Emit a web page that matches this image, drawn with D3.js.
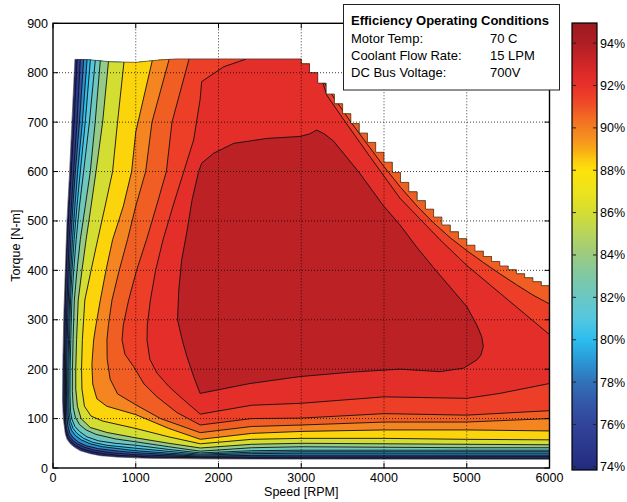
<!DOCTYPE html>
<html>
<head>
<meta charset="utf-8">
<script src="https://cdn.jsdelivr.net/npm/d3@7"></script>
<style>
  body { margin: 0; background: #fff; }
  svg { font-family: "Liberation Sans", Arial, sans-serif; }
</style>
</head>
<body>
<svg id="chart" width="627" height="502"></svg>
<script>
// ---- data ----
const speedTicks = [0, 1000, 2000, 3000, 4000, 5000, 6000];
const torqueTicks = [0, 100, 200, 300, 400, 500, 600, 700, 800, 900];
const effTicks = [74, 76, 78, 80, 82, 84, 86, 88, 90, 92, 94];

// contour levels (%) and the efficiency each filled band shows (first = below 74%)
const levels = [74, 76, 78, 80, 81, 82, 84, 86, 88, 89, 90, 91, 92, 93];
const bandEff = [73.9, 75.2, 77, 78.7, 80, 81, 82.2, 83.8, 86, 88.3, 89.8, 90.75, 91.5, 92.2, 93.6];

// colour map of the colour bar
const cmapEff = [73.85, 74, 75, 76, 77, 78, 79, 80, 81, 82, 83, 84, 85, 86, 87, 88, 88.5, 89, 89.5, 90, 90.5, 91, 91.5, 92, 92.5, 93, 93.5, 94, 94.95];
const cmapColors = ["#202879", "#242c7f", "#2b398d", "#31449a", "#3357a8", "#3172b9", "#2b98d6", "#2bbdee", "#55c7e0",
  "#6ac8c4", "#80c8a3", "#9bcb80", "#b8d45c", "#d4dd32", "#ece31c", "#fde20a", "#fbca0e", "#f8a817", "#f69020",
  "#f47e20", "#f26a22", "#ef5226", "#ed3e28", "#e8302a", "#df2b29", "#cf2628", "#bf2226", "#ae1e24", "#9c1b20"];

// torque limit (stepped) at high speed
const limitSpeed = [2900, 3000, 3100, 3200, 3300, 3400, 3500, 3600, 3700, 3800, 3900, 4000, 4100, 4200, 4300, 4400,
  4500, 4600, 4700, 4800, 4900, 5000, 5100, 5200, 5300, 5400, 5500, 5600, 5700, 5800, 5900, 6000];
const limitTorque = [828, 818, 800, 779, 757, 737, 717, 697, 678, 659, 639, 619, 598, 578, 559, 541,
  524, 508, 492, 478, 464, 451, 439, 428, 418, 409, 401, 393, 385, 377, 369, 362];

// top edge of the map (speed, torque) before the steps
const dataTop = [[265, 827], [450, 826], [700, 822], [1000, 821], [1300, 826], [1500, 828], [2900, 828]];
// bottom and left edge, from bottom right round to top left
const dataEdge = [[6000, 17.5], [3000, 18], [1800, 18.5], [1177, 19.5], [800, 22], [572, 25], [450, 29], [330, 35],
  [260, 42], [209, 49], [170, 58], [149, 69], [125, 100], [115, 136], [118, 200], [129, 300], [149, 400],
  [169, 500], [201, 600], [229, 700], [265, 827]];

// contour lines (speed rpm, torque N-m): top -> down the left -> along the bottom
const c74 = [[315, 950], [290, 825], [255, 700], [221, 600], [195, 530], [175, 462], [160, 400], [150, 340], [142, 260],
  [137, 200], [135, 136], [140, 95], [155, 75], [180, 62], [215, 54], [270, 46], [350, 39], [470, 33], [600, 29],
  [800, 25.5], [1177, 22.5], [1780, 20.5], [2400, 20.5], [6000, 20]];
const c76 = [[360, 950], [330, 825], [290, 700], [249, 600], [222, 530], [195, 462], [182, 400], [170, 340], [158, 260],
  [152, 200], [150, 140], [152, 100], [162, 80], [190, 66], [230, 57], [290, 49], [380, 42], [500, 36], [700, 31],
  [1000, 27], [1780, 22.2], [2400, 22.5], [6000, 23]];
const c78 = [[400, 950], [370, 825], [320, 700], [270, 600], [240, 530], [215, 462], [198, 400], [185, 340], [172, 260],
  [165, 200], [163, 145], [168, 105], [180, 85], [205, 70], [245, 61], [310, 52], [400, 45], [550, 39], [800, 34],
  [1000, 31], [1780, 23.8], [2400, 25.5], [3000, 26], [6000, 26]];
const c80 = [[445, 950], [411, 825], [355, 700], [298, 600], [265, 530], [235, 462], [215, 400], [200, 340], [188, 260],
  [180, 200], [178, 150], [183, 108], [197, 90], [225, 76], [270, 66], [340, 57], [450, 49], [600, 43], [1000, 35],
  [1400, 30], [1780, 26], [2400, 29], [3000, 30], [6000, 30]];
const c81 = [[490, 950], [451, 825], [390, 700], [330, 600], [290, 530], [255, 462], [230, 400], [212, 340], [200, 260],
  [193, 200], [190, 150], [196, 112], [212, 94], [243, 80], [290, 70], [370, 60], [480, 52], [650, 46], [1000, 40],
  [1400, 33.5], [1780, 28], [2400, 32], [3000, 33], [6000, 33]];
const c82 = [[550, 950], [511, 825], [440, 700], [370, 600], [320, 530], [280, 462], [250, 400], [228, 340], [215, 260],
  [207, 200], [205, 150], [212, 115], [230, 98], [265, 84], [320, 74], [410, 63], [550, 55], [750, 50], [1000, 46],
  [1400, 37.5], [1780, 30.5], [2400, 35], [3000, 36], [6000, 36]];
const c84 = [[620, 950], [572, 825], [510, 700], [451, 600], [390, 530], [330, 462], [290, 400], [258, 340], [243, 260],
  [235, 200], [234, 155], [245, 122], [270, 103], [320, 88], [400, 77], [520, 68], [750, 59], [1000, 53], [1400, 43],
  [1780, 34], [2400, 41], [3000, 43], [4000, 42], [5000, 41], [6000, 41]];
const c86 = [[740, 950], [672, 825], [600, 700], [520, 600], [460, 530], [400, 462], [350, 400], [305, 340], [285, 260],
  [275, 200], [275, 160], [295, 125], [340, 100], [450, 82], [650, 72], [1000, 61], [1400, 50], [1780, 40.5],
  [2400, 48], [3000, 50], [4000, 49], [5000, 48], [6000, 47]];
const c88 = [[940, 950], [860, 825], [780, 700], [720, 600], [630, 530], [540, 462], [460, 400], [385, 340], [355, 260],
  [345, 200], [350, 160], [380, 125], [460, 105], [600, 95], [1000, 80], [1400, 63], [1780, 49], [2400, 58],
  [3000, 60], [4000, 60], [5000, 58], [6000, 57]];
const c89 = [[1300, 950], [1200, 825], [1000, 680], [950, 600], [850, 530], [720, 462], [640, 400], [572, 340],
  [520, 290], [491, 259], [470, 210], [480, 170], [530, 140], [650, 125], [1000, 108], [1400, 80], [1780, 58],
  [2400, 70], [3000, 74], [4000, 77], [5000, 77], [6000, 75]];
const c90 = [[1500, 950], [1400, 825], [1196, 700], [1120, 600], [1000, 530], [900, 462], [800, 400], [713, 340],
  [670, 290], [652, 259], [655, 220], [690, 180], [780, 150], [1000, 128], [1300, 100], [1780, 71.5], [2400, 84],
  [3000, 87], [4000, 93], [5000, 93], [6000, 100]];
const c91 = [[1750, 950], [1640, 825], [1438, 700], [1370, 600], [1250, 530], [1130, 462], [1010, 400], [914, 340],
  [850, 290], [834, 259], [870, 230], [975, 205], [1100, 170], [1257, 144], [1500, 112], [1780, 87], [2400, 100],
  [3000, 101], [4000, 110], [5000, 107], [6000, 116]];
const c91Upper = [[6000, 332], [5800, 350], [5600, 371], [5400, 393], [5200, 416], [5000, 440], [4800, 466], [4600, 496],
  [4400, 530], [4200, 568], [4000, 610], [3800, 655], [3600, 700], [3400, 748], [3200, 800], [3000, 850]];
const c92 = [[2450, 900], [2324, 827], [2062, 812], [1797, 782], [1777, 745], [1700, 664], [1580, 600], [1450, 530],
  [1330, 462], [1240, 400], [1177, 340], [1140, 290], [1136, 259], [1170, 220], [1257, 192], [1400, 165], [1538, 144],
  [1780, 109], [2400, 127], [3000, 131], [4000, 144], [5000, 141], [5400, 151], [6000, 171]];
const c92Upper = [[6000, 270], [5500, 340], [5000, 410], [4677, 462], [4193, 546], [3831, 630], [3500, 708], [3307, 755],
  [3150, 840]];
const c93 = [[1797, 617], [1941, 637], [2183, 657], [2586, 667], [2985, 671], [3100, 676], [3186, 684], [3280, 676],
  [3388, 662], [3700, 598], [3992, 531], [4193, 492], [4400, 446], [4596, 406], [4800, 366], [4999, 327], [5120, 290],
  [5180, 266], [5200, 246], [5170, 228], [5124, 219], [4960, 202], [4677, 195], [4193, 200], [3600, 194], [2985, 185],
  [2381, 171], [1777, 151], [1700, 185], [1619, 225], [1560, 260], [1505, 300], [1520, 360], [1555, 421], [1620, 480],
  [1680, 542], [1760, 600]];

const contours = [c74, c76, c78, c80, c81, c82, c84, c86, c88, c89, c90, c91, c92, c93];
const upperLines = { 91: c91Upper, 92: c92Upper };

// ---- drawing ----
const svg = d3.select("#chart");
const x = d3.scaleLinear().domain([0, 6000]).range([53, 549.5]);
const y = d3.scaleLinear().domain([0, 900]).range([468, 23.3]);
const color = d3.scaleLinear().domain(cmapEff).range(cmapColors).clamp(true);
const line = d3.line().x(d => x(d[0])).y(d => y(d[1]));

// outline of the map: top, stepped limit, right edge, bottom, left
const steps = [];
limitSpeed.forEach((s, i) => {
    steps.push([s, limitTorque[i]]);
    if (i < limitSpeed.length - 1) steps.push([limitSpeed[i + 1], limitTorque[i]]);
});
const outline = dataTop.concat(steps, dataEdge);

const defs = svg.append("defs");
defs.append("clipPath").attr("id", "mapClip")
    .append("path").attr("d", line(outline) + "Z");

const map = svg.append("g").attr("clip-path", "url(#mapClip)");

map.append("path")
    .attr("d", line(outline) + "Z")
    .attr("fill", color(bandEff[0]));

// region above each level, painted from low to high
contours.forEach((pts, i) => {
    const lvl = levels[i];
    let poly;
    if (lvl === 93) {
        poly = pts;
    } else if (upperLines[lvl]) {
        const up = upperLines[lvl];
        const last = pts[pts.length - 1];
        poly = pts.concat([[6200, last[1]], [6200, up[0][1]]], up,
            [[up[up.length - 1][0], 1000], [pts[0][0], 1000]]);
    } else {
        const last = pts[pts.length - 1];
        poly = pts.concat([[6200, last[1]], [6200, 1000], [pts[0][0], 1000]]);
    }
    map.append("path")
        .attr("d", line(poly) + "Z")
        .attr("fill", color(bandEff[i + 1]))
        .attr("stroke", "#111")
        .attr("stroke-width", 0.9)
        .attr("stroke-linejoin", "round");
});

svg.append("path")
    .attr("d", line(outline) + "Z")
    .attr("fill", "none")
    .attr("stroke", "#222")
    .attr("stroke-width", 0.6);

// grid
const grid = svg.append("g")
    .attr("stroke", "#000")
    .attr("stroke-width", 1)
    .attr("stroke-dasharray", "1,2")
    .attr("opacity", 0.75);
grid.selectAll(".gx").data(speedTicks.slice(1, -1)).enter().append("line")
    .attr("x1", d => x(d)).attr("x2", d => x(d))
    .attr("y1", y(900)).attr("y2", y(0));
grid.selectAll(".gy").data(torqueTicks.slice(1, -1)).enter().append("line")
    .attr("x1", x(0)).attr("x2", x(6000))
    .attr("y1", d => y(d)).attr("y2", d => y(d));

// axes (MATLAB style: box, ticks inside)
const tickLen = 5;
const axes = svg.append("g").attr("stroke", "#000").attr("stroke-width", 1);
speedTicks.forEach(t => {
    axes.append("line").attr("x1", x(t)).attr("x2", x(t)).attr("y1", y(0)).attr("y2", y(0) - tickLen);
    axes.append("line").attr("x1", x(t)).attr("x2", x(t)).attr("y1", y(900)).attr("y2", y(900) + tickLen);
});
torqueTicks.forEach(t => {
    axes.append("line").attr("x1", x(0)).attr("x2", x(0) + tickLen).attr("y1", y(t)).attr("y2", y(t));
    axes.append("line").attr("x1", x(6000)).attr("x2", x(6000) - tickLen).attr("y1", y(t)).attr("y2", y(t));
});
svg.append("rect")
    .attr("x", x(0)).attr("y", y(900))
    .attr("width", x(6000) - x(0)).attr("height", y(0) - y(900))
    .attr("fill", "none").attr("stroke", "#000").attr("stroke-width", 1.4);

svg.append("g").selectAll("text").data(speedTicks).enter().append("text")
    .attr("x", d => x(d)).attr("y", y(0) + 14)
    .attr("text-anchor", "middle")
    .style("font-size", "12.5px")
    .text(d => d);
svg.append("g").selectAll("text").data(torqueTicks).enter().append("text")
    .attr("x", x(0) - 5).attr("y", d => y(d)).attr("dy", "0.36em")
    .attr("text-anchor", "end")
    .style("font-size", "12.5px")
    .text(d => d);

svg.append("text")
    .attr("x", (x(0) + x(6000)) / 2).attr("y", 496)
    .attr("text-anchor", "middle")
    .style("font-size", "12.5px")
    .text("Speed [RPM]");
svg.append("text")
    .attr("transform", "translate(20," + ((y(0) + y(900)) / 2) + ") rotate(-90)")
    .attr("text-anchor", "middle")
    .style("font-size", "12.5px")
    .text("Torque [N-m]");

// colour bar
const cb = { x: 572, w: 25 };
const cbY = d3.scaleLinear().domain([73.85, 94.95]).range([470, 23]);
const grad = defs.append("linearGradient").attr("id", "cbGrad")
    .attr("x1", 0).attr("x2", 0).attr("y1", 1).attr("y2", 0);
cmapEff.forEach((e, i) => {
    grad.append("stop")
        .attr("offset", (cbY(73.85) - cbY(e)) / (cbY(73.85) - cbY(94.95)))
        .attr("stop-color", cmapColors[i]);
});
svg.append("rect")
    .attr("x", cb.x).attr("y", cbY(94.95))
    .attr("width", cb.w).attr("height", cbY(73.85) - cbY(94.95))
    .attr("fill", "url(#cbGrad)")
    .attr("stroke", "#000").attr("stroke-width", 1.2);
const cbTicks = svg.append("g").attr("stroke", "#222").attr("stroke-width", 1);
effTicks.forEach(t => {
    cbTicks.append("line").attr("x1", cb.x).attr("x2", cb.x + 4).attr("y1", cbY(t)).attr("y2", cbY(t));
    cbTicks.append("line").attr("x1", cb.x + cb.w).attr("x2", cb.x + cb.w - 4).attr("y1", cbY(t)).attr("y2", cbY(t));
});
svg.append("g").selectAll("text").data(effTicks).enter().append("text")
    .attr("x", cb.x + cb.w + 3).attr("y", d => cbY(d)).attr("dy", "0.36em")
    .style("font-size", "12.5px")
    .text(d => d + "%");

// operating conditions box
const info = [["Motor Temp:", "70 C"], ["Coolant Flow Rate:", "15 LPM"], ["DC Bus Voltage:", "700V"]];
const box = svg.append("g");
box.append("rect")
    .attr("x", 343.5).attr("y", 4.5).attr("width", 216).attr("height", 85.5)
    .attr("fill", "#fff").attr("stroke", "#222").attr("stroke-width", 1);
box.append("text")
    .attr("x", 351).attr("y", 24.5)
    .style("font-size", "13px").style("font-weight", "bold")
    .text("Efficiency Operating Conditions");
info.forEach((r, i) => {
    box.append("text").attr("x", 351).attr("y", 42.5 + i * 17.3).style("font-size", "13px").text(r[0]);
    box.append("text").attr("x", 490).attr("y", 42.5 + i * 17.3).style("font-size", "13px").text(r[1]);
});
</script>
</body>
</html>
